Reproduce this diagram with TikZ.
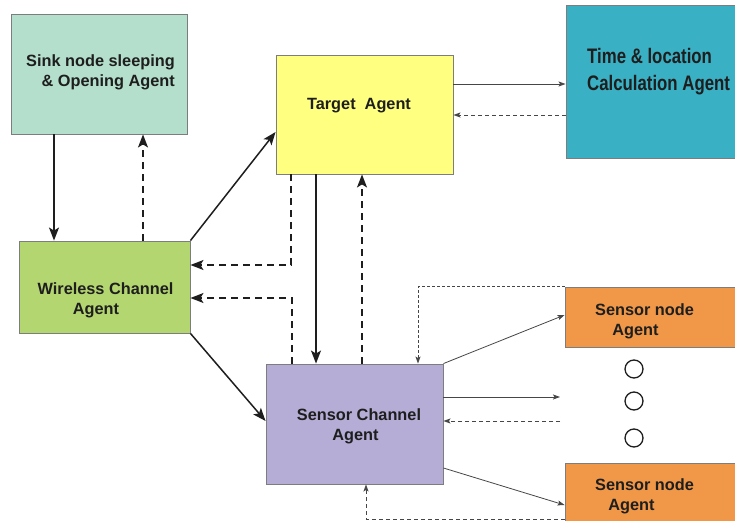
\documentclass[tikz,border=0pt]{standalone}
\usepackage{fontspec}
\setmainfont{Liberation Sans}
\newfontfamily\narrowbold[FakeStretch=0.8]{Liberation Sans Bold}
\usetikzlibrary{arrows.meta,calc}

\definecolor{sinkfill}{RGB}{180,223,204}
\definecolor{wirelessfill}{RGB}{180,214,112}
\definecolor{targetfill}{RGB}{255,255,128}
\definecolor{timefill}{RGB}{58,176,196}
\definecolor{channelfill}{RGB}{181,173,214}
\definecolor{nodefill}{RGB}{240,152,72}
\definecolor{edgegray}{RGB}{125,125,125}
\definecolor{ink}{RGB}{30,30,30}
\definecolor{thinink}{RGB}{70,70,70}

\tikzset{
  agentbox/.style={draw=edgegray, line width=0.9pt, inner sep=0pt},
  agenttext/.style={text=ink, font=\bfseries\fontsize{16.3}{19.5}\selectfont, inner sep=0pt},
  bigflow/.style={draw=ink, line width=1.5pt, -{Stealth[length=13pt,width=10pt,inset=3pt]}},
  bigback/.style={bigflow, dash pattern=on 7pt off 5pt},
  smallflow/.style={draw=thinink, line width=0.8pt, -{Stealth[length=7pt,width=5pt,inset=1.5pt]}},
  smallback/.style={smallflow, dash pattern=on 4pt off 3pt},
  smalldot/.style={smallflow, dash pattern=on 3pt off 2pt},
  ring/.style={circle, draw=ink, line width=1.3pt, minimum size=18pt, inner sep=0pt}
}

\begin{document}
\begin{tikzpicture}[x=1pt, y=-1pt]
\useasboundingbox (0,0) rectangle (735,521);

% agent boxes
\node[agentbox, fill=sinkfill, minimum width=176pt, minimum height=120pt] (sink) at (99,74) {};
\node[agentbox, fill=wirelessfill, minimum width=171pt, minimum height=92pt] (wireless) at (104.5,287) {};
\node[agentbox, fill=targetfill, minimum width=177pt, minimum height=119pt] (target) at (364.5,114.5) {};
\node[agentbox, fill=timefill, minimum width=175pt, minimum height=153pt] (time) at (653.5,81.5) {};
\node[agentbox, fill=channelfill, minimum width=177pt, minimum height=120pt] (channel) at (354.5,424) {};
\node[agentbox, fill=nodefill, minimum width=180pt, minimum height=60pt] (node1) at (655,317) {};
\node[agentbox, fill=nodefill, minimum width=180pt, minimum height=70pt] (node2) at (655,498) {};

% box captions
\node[agenttext, align=right] (sink-t) at (100.5,72.5) {Sink node sleeping\\\& Opening Agent};
\node[agenttext] (target-t) at (359,106) {Target\ \ Agent};
\node[agenttext, align=center] (wireless-t) at (105.5,300.5) {Wireless Channel\\Agent\hspace*{19pt}};
\node[agenttext, align=center] (channel-t) at (359,426.5) {Sensor Channel\\Agent\hspace*{7pt}};
\node[agenttext, align=center] (node1-t) at (644.5,321.5) {Sensor node\\Agent\hspace*{18pt}};
\node[agenttext, align=center] (node2-t) at (644.5,496.5) {Sensor node\\Agent\hspace*{26pt}};
\node[text=ink, inner sep=0pt, anchor=west, align=left,
      font=\narrowbold\fontsize{21}{27}\selectfont] (time-t) at (587,71.5) {Time \& location\\Calculation Agent};

% further sensor nodes
\node[ring] (dot1) at (634,369) {};
\node[ring] (dot2) at (634,401) {};
\node[ring] (dot3) at (634,438) {};

% free ends of the open links
\coordinate (outend) at (560,397);
\coordinate (inend) at (560,421);

% links between sink, wireless and target agents
\draw[bigflow] (54,0 |- sink.south) -- (54,0 |- wireless.north);
\draw[bigback] (143,0 |- wireless.north) -- (143,0 |- sink.south);
\draw[bigflow] (wireless.north east) -- (target.west |- 0,132);
\draw[bigback] (291,0 |- target.south) |- (wireless.east |- 0,265);
\draw[bigback] (292,0 |- channel.north) |- (wireless.east |- 0,298);
\draw[bigflow] (316,0 |- target.south) -- (316,0 |- channel.north);
\draw[bigback] (362,0 |- channel.north) -- (362,0 |- target.south);
\draw[bigflow] (wireless.south east) -- (channel.west |- 0,421);

% links to the time and location agent
\draw[smallflow] (target.east |- 0,84) -- (time.west |- 0,84);
\draw[smallback] (time.west |- 0,115) -- (target.east |- 0,115);

% links between sensor channel and sensor nodes
\draw[smalldot] (node1.north west) -| (418,0 |- channel.north);
\draw[smallflow] (channel.north east) -- (node1.west |- 0,315);
\draw[smallflow] (channel.east |- outend) -- (outend);
\draw[smallback] (inend) -- (channel.east |- inend);
\draw[smallflow] (channel.east |- 0,468) -- (node2.west |- 0,505);
\draw[smallback] (node2.west |- 0,519) -| (366,0 |- channel.south);
\end{tikzpicture}
\end{document}
